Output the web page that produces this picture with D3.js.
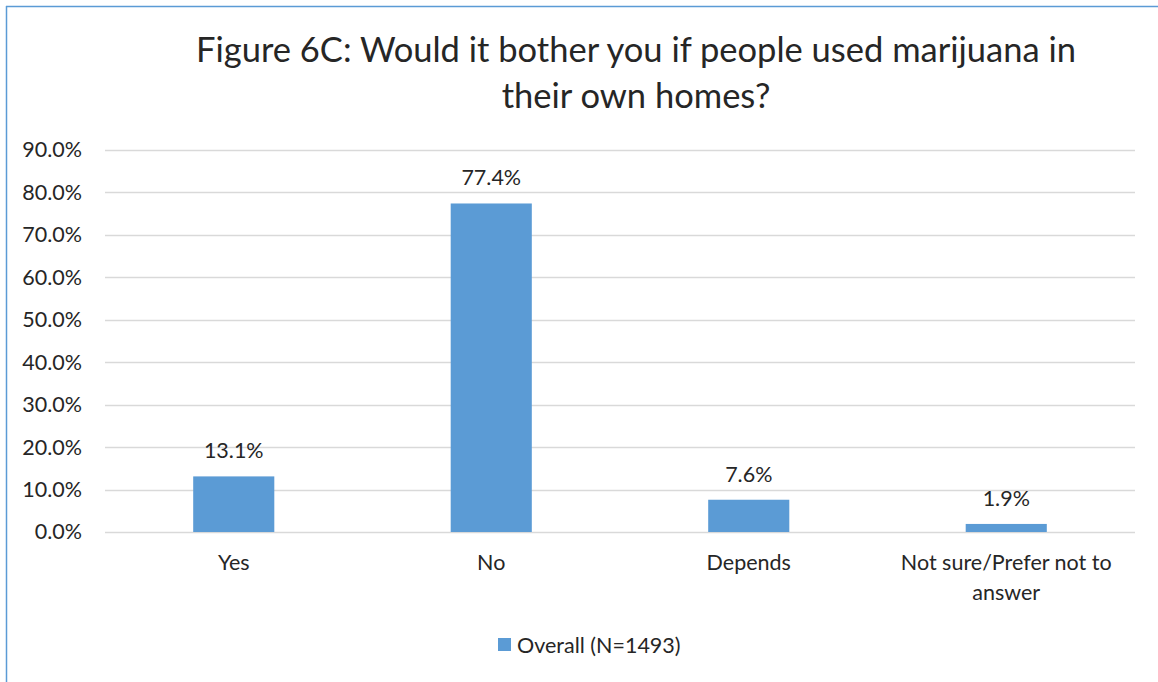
<!DOCTYPE html>
<html>
<head>
<meta charset="utf-8">
<script src="https://cdn.jsdelivr.net/npm/d3@7"></script>
<style>
  html, body { margin: 0; padding: 0; background: #fff; }
  svg { display: block; font-family: Lato, "Noto Sans", sans-serif; }
</style>
</head>
<body>
<svg id="chart" width="1158" height="682"></svg>
<script>
// Survey responses, share of respondents (%)
const categories = ["Yes", "No", "Depends", "Not sure/Prefer not to answer"];
const overall = [13.1, 77.4, 7.6, 1.9];
const yTicks = [0, 10, 20, 30, 40, 50, 60, 70, 80, 90];
const seriesName = "Overall (N=1493)";
const titleLines = ["Figure 6C: Would it bother you if people used marijuana in", "their own homes?"];

const W = 1158, H = 682;
const barColor = "#5B9BD5";
const textColor = "#262626";
const bodySize = 21.5;

const svg = d3.select("#chart");

// frame edges along the top and left
svg.append("line").attr("x1", 6).attr("x2", W).attr("y1", 6.5).attr("y2", 6.5)
  .attr("stroke", "#5B9BD5").attr("stroke-width", 1.5);
svg.append("line").attr("x1", 6.5).attr("x2", 6.5).attr("y1", 6).attr("y2", H)
  .attr("stroke", "#5B9BD5").attr("stroke-width", 1.5);

const x = d3.scaleBand().domain(categories).range([105, 1135]).paddingInner(0.685).paddingOuter(0.3425);
const y = d3.scaleLinear().domain([0, 90]).range([532, 150]);

// gridlines
svg.append("g").selectAll("line").data(yTicks).join("line")
  .attr("x1", 105).attr("x2", 1135)
  .attr("y1", d => Math.round(y(d)) + 0.5).attr("y2", d => Math.round(y(d)) + 0.5)
  .attr("stroke", "#D9D9D9").attr("stroke-width", 1.5);

// y axis labels
const yAxis = d3.axisLeft(y).tickValues(yTicks).tickFormat(d => d3.format(".1f")(d) + "%").tickSize(0).tickPadding(0);
const gy = svg.append("g").attr("transform", "translate(82,0)").call(yAxis);
gy.select(".domain").remove();
gy.selectAll("text").attr("font-size", bodySize).attr("fill", textColor).attr("font-family", "Lato, sans-serif");

// bars
svg.append("g").selectAll("rect").data(overall).join("rect")
  .attr("x", (d, i) => x(categories[i]))
  .attr("width", x.bandwidth())
  .attr("y", d => y(d))
  .attr("height", d => y(0) - y(d))
  .attr("fill", barColor);

// value labels
svg.append("g").selectAll("text").data(overall).join("text")
  .attr("x", (d, i) => x(categories[i]) + x.bandwidth() / 2)
  .attr("y", d => y(d) - 18)
  .attr("text-anchor", "middle")
  .attr("font-size", bodySize).attr("fill", textColor)
  .text(d => d.toFixed(1) + "%");

// category labels (wrapped)
const catLines = [["Yes"], ["No"], ["Depends"], ["Not sure/Prefer not to", "answer"]];
const gx = svg.append("g");
categories.forEach((c, i) => {
  const t = gx.append("text")
    .attr("x", x(c) + x.bandwidth() / 2)
    .attr("y", 570)
    .attr("text-anchor", "middle")
    .attr("font-size", bodySize).attr("fill", textColor);
  catLines[i].forEach((ln, j) => {
    t.append("tspan").attr("x", x(c) + x.bandwidth() / 2).attr("dy", j === 0 ? 0 : 30).text(ln);
  });
});

// title
const title = svg.append("text").attr("text-anchor", "middle").attr("font-size", 34.5).attr("fill", textColor);
titleLines.forEach((ln, j) => {
  title.append("tspan").attr("x", 636).attr("y", 62 + j * 46).text(ln);
});

// legend
const lg = svg.append("g").attr("transform", "translate(498,638)");
lg.append("rect").attr("width", 13).attr("height", 13).attr("fill", barColor);
lg.append("text").attr("x", 19).attr("y", 14.5).attr("font-size", bodySize).attr("fill", textColor).text(seriesName);
</script>
</body>
</html>
